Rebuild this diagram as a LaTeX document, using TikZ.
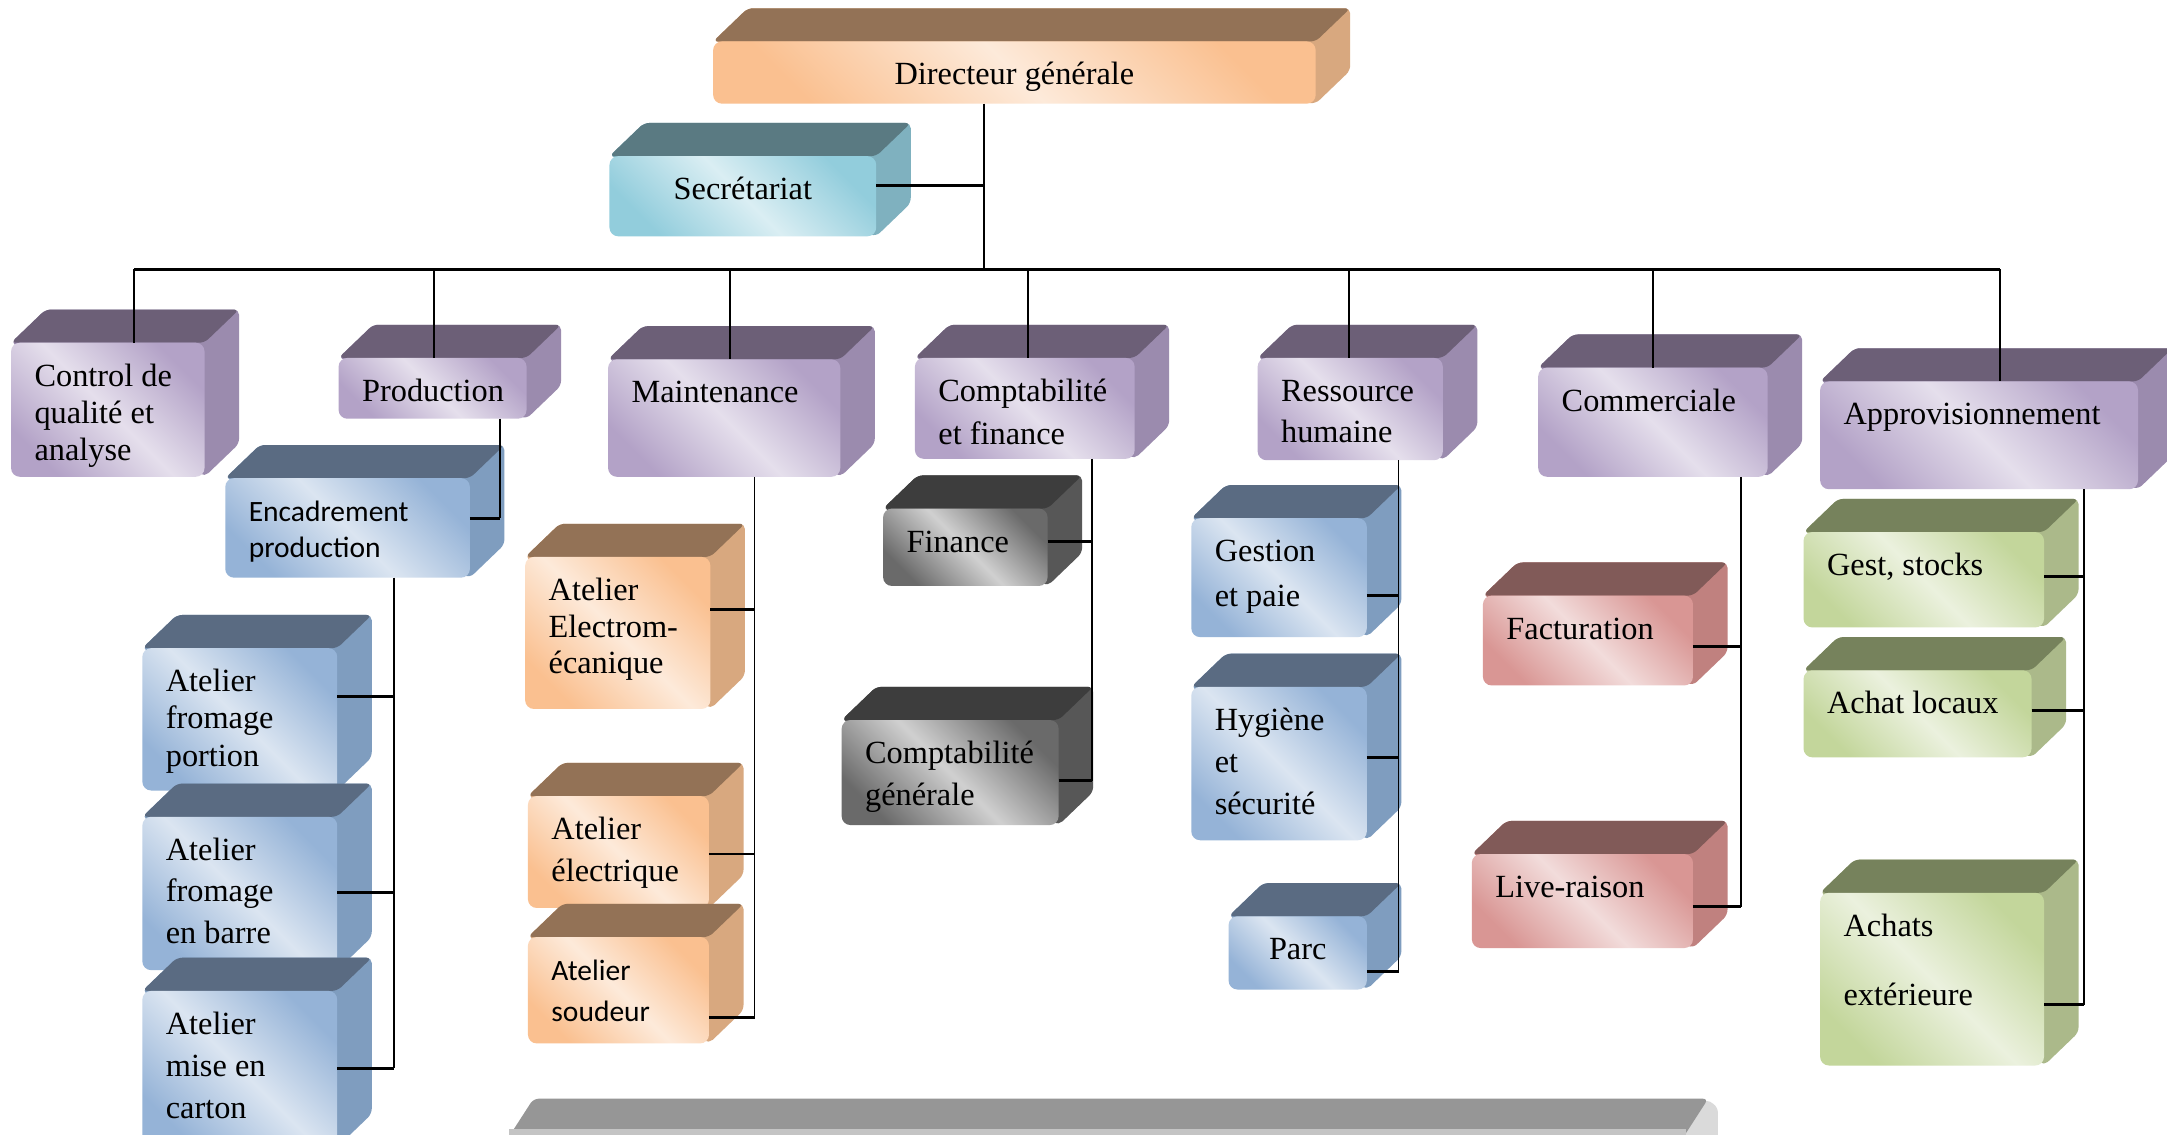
\documentclass[tikz,border=0pt]{standalone}
\usepackage{fontspec}
\setmainfont{Liberation Serif}
\newfontfamily\sansf{Carlito}
\usetikzlibrary{calc}
% colour sets: top, side, saturated front, light front
\definecolor{ortop}{HTML}{937256}\definecolor{orside}{HTML}{D8A87F}\definecolor{orsat}{HTML}{FAC090}\definecolor{orlt}{HTML}{FDEADA}
\definecolor{cytop}{HTML}{5A7A82}\definecolor{cyside}{HTML}{7FB1BF}\definecolor{cysat}{HTML}{92CDDC}\definecolor{cylt}{HTML}{DAEEF3}
\definecolor{putop}{HTML}{6C5F77}\definecolor{puside}{HTML}{9B8BAE}\definecolor{pusat}{HTML}{B3A2C7}\definecolor{pult}{HTML}{E5DFEC}
\definecolor{bltop}{HTML}{5A6B82}\definecolor{blside}{HTML}{7F9DBF}\definecolor{blsat}{HTML}{95B3D7}\definecolor{bllt}{HTML}{DBE5F1}
\definecolor{dktop}{HTML}{3D3D3D}\definecolor{dkside}{HTML}{575757}\definecolor{dksat}{HTML}{6A6A6A}\definecolor{dklt}{HTML}{D0D0D0}
\definecolor{rdtop}{HTML}{815A58}\definecolor{rdside}{HTML}{C0817F}\definecolor{rdsat}{HTML}{D99694}\definecolor{rdlt}{HTML}{F2DCDB}
\definecolor{grtop}{HTML}{76825C}\definecolor{grside}{HTML}{ABB98A}\definecolor{grsat}{HTML}{C3D69B}\definecolor{grlt}{HTML}{EBF1DE}
\definecolor{bartop}{HTML}{969696}\definecolor{barside}{HTML}{DADADA}\definecolor{barfront}{HTML}{C4C4C4}
\tikzset{
  front/.style={rounded corners=2.5pt, inner sep=0pt, outer sep=0pt},
  txt/.style={inner sep=0pt, outer sep=0pt, align=left, anchor=north west, text=black},
  ln/.style={line width=0.5pt, black},
  stubln/.style={line width=0.8pt, black},
  busln/.style={line width=1pt, black}
}
% 3D box: name, x1, y1, x2, y2, colour set
\newcommand\dcube[6]{%
  \fill[#6side, rounded corners=1.5pt] (#2,#3) -- ({#2+25},{#3-24}) -- ({#4+25},{#3-24}) -- ({#4+25},{#5-24}) -- (#4,#5) -- cycle;
  \fill[#6top, rounded corners=1.5pt] (#2,#3) -- ({#2+25},{#3-24}) -- ({#4+25},{#3-24}) -- (#4,#3) -- cycle;
  \node[front, top color=#6sat, bottom color=#6sat, middle color=#6lt, shading angle=-45,
        minimum width={(#4-#2)*0.1382mm}, minimum height={(#5-#3)*0.1382mm}] (#1) at ({(#2+#4)/2},{(#3+#5)/2}) {};
}
\newcommand\lbl[3]{\node[txt, font=\fontsize{9.2}{#3}\selectfont] (#1-t) at ($(#1.north west)+(17,8.6)$) {\rule{0pt}{9pt}#2};}
\newcommand\slbl[3]{\node[txt, font=\sansf\fontsize{8.4}{#3}\selectfont] (#1-t) at ($(#1.north west)+(17,8.6)$) {\rule{0pt}{9pt}#2};}
\newcommand\clbl[2]{\node[txt, anchor=north, align=center, font=\fontsize{9.2}{11pt}\selectfont] (#1-t) at ($(#1.north)+(0,8.6)$) {\rule{0pt}{9pt}#2};}
\newcommand\stub[3]{\draw[stubln] ($(#1.north east)+(0,#2)$) coordinate (#1-s) -- (#1-s -| #3);}
\begin{document}
\begin{tikzpicture}[x=0.1382mm, y=-0.1382mm]
\useasboundingbox (0,0) rectangle (1568,821);
\fill[white] (0,0) rectangle (1568,821);

% top
\dcube{dir}{516}{30}{952}{75}{or} \clbl{dir}{Directeur générale}
\dcube{sec}{441}{113}{634}{171}{cy} \clbl{sec}{Secrétariat}

% level 2
\dcube{ctrl}{8}{248}{148}{345}{pu} \lbl{ctrl}{Control de\\qualité et\\analyse}{10.6pt}
\dcube{prod}{245}{259}{381}{303}{pu} \lbl{prod}{Production}{11pt}
\dcube{maint}{440}{260}{608}{345}{pu} \lbl{maint}{Maintenance}{11pt}
\dcube{compta}{662}{259}{821}{332}{pu} \lbl{compta}{Comptabilité\\et finance}{12.2pt}
\dcube{rh}{910}{259}{1044}{333}{pu} \lbl{rh}{Ressource\\humaine}{11.8pt}
\dcube{comm}{1113}{266}{1279}{345}{pu} \lbl{comm}{Commerciale}{11pt}
\dcube{appro}{1317}{276}{1547}{354}{pu} \lbl{appro}{Approvisionnement}{11pt}

% production
\dcube{enc}{163}{346}{340}{418}{bl} \slbl{enc}{Encadrement\\production}{10.2pt}
\dcube{fp}{103}{469}{244}{572}{bl} \lbl{fp}{Atelier\\fromage\\portion}{10.6pt}
\dcube{fb}{103}{591}{244}{702}{bl} \lbl{fb}{Atelier\\fromage\\en barre}{11.8pt}
\dcube{fc}{103}{717}{244}{830}{bl} \lbl{fc}{Atelier\\mise en\\carton}{12pt}

% maintenance
\dcube{aem}{380}{403}{514}{513}{or} \lbl{aem}{Atelier\\Electrom-\\écanique}{10.4pt}
\dcube{ael}{382}{576}{513}{657}{or} \lbl{ael}{Atelier\\électrique}{11.8pt}
\dcube{aso}{382}{678}{513}{755}{or} \slbl{aso}{Atelier\\soudeur}{11.8pt}

% comptabilite
\dcube{fin}{639}{368}{758}{424}{dk} \lbl{fin}{Finance}{11pt}
\dcube{cg}{609}{521}{766}{597}{dk} \lbl{cg}{Comptabilité\\générale}{11.8pt}

% RH
\dcube{gp}{862}{375}{989}{461}{bl} \lbl{gp}{Gestion\\et paie}{12.6pt}
\dcube{hs}{862}{497}{989}{608}{bl} \lbl{hs}{Hygiène\\et\\sécurité}{12pt}
\dcube{parc}{889}{663}{989}{716}{bl} \clbl{parc}{Parc}

% commerciale
\dcube{fact}{1073}{431}{1225}{496}{rd} \lbl{fact}{Facturation}{11pt}
\dcube{live}{1065}{618}{1225}{686}{rd} \lbl{live}{Live-raison}{11pt}

% approvisionnement
\dcube{gs}{1305}{385}{1479}{454}{gr} \lbl{gs}{Gest, stocks}{11pt}
\dcube{al}{1305}{485}{1470}{548}{gr} \lbl{al}{Achat locaux}{11pt}
\dcube{ae}{1317}{646}{1479}{771}{gr} \lbl{ae}{Achats\\extérieure}{19.7pt}

% bottom bar (cut by page edge)
\fill[barside, rounded corners=1.5pt] (1214,826) -- (1234,795) -- (1243,801) -- (1243,826) -- cycle;
\fill[bartop, rounded corners=1.5pt] (366,826) -- (386,795) -- (1236,795) -- (1216,826) -- cycle;
\fill[barfront] (368,817) rectangle (1220,826);

% connectors
\coordinate (bc) at (712,195);
\coordinate (b1) at (97,195);
\coordinate (b2) at (314,195);
\coordinate (b3) at (528,195);
\coordinate (b4) at (744,195);
\coordinate (b5) at (976,195);
\coordinate (b6) at (1196,195);
\coordinate (b7) at (1447,195);
\draw[busln] (b1) -- (b7);
\draw[ln] (bc |- dir.south) -- (bc);
\stub{sec}{21}{bc}
\foreach \b/\n in {b1/ctrl, b2/prod, b3/maint, b4/compta, b5/rh, b6/comm, b7/appro}
  \draw[ln] (\b) -- (\b |- \n.north);

\coordinate (tprod) at ($(prod.south east)+(-19,0)$);
\stub{enc}{29}{tprod}
\draw[ln] (tprod) -- (tprod |- enc-s);

\coordinate (tenc) at ($(enc.south east)+(-55,0)$);
\stub{fp}{35}{tenc} \stub{fb}{55}{tenc} \stub{fc}{56}{tenc}
\draw[ln] (tenc) -- (tenc |- fc-s);

\coordinate (tmaint) at ($(maint.south east)+(-62,0)$);
\stub{aem}{38}{tmaint} \stub{ael}{42}{tmaint} \stub{aso}{58}{tmaint}
\draw[ln] (tmaint) -- (tmaint |- aso-s);

\coordinate (tcompta) at ($(compta.south east)+(-31,0)$);
\stub{fin}{24}{tcompta} \stub{cg}{44}{tcompta}
\draw[ln] (tcompta) -- (tcompta |- cg-s);

\coordinate (trh) at ($(rh.south east)+(-32,0)$);
\stub{gp}{56}{trh} \stub{hs}{51}{trh} \stub{parc}{40}{trh}
\draw[ln] (trh) -- (trh |- parc-s);

\coordinate (tcomm) at ($(comm.south east)+(-19,0)$);
\stub{fact}{37}{tcomm} \stub{live}{38}{tcomm}
\draw[ln] (tcomm) -- (tcomm |- live-s);

\coordinate (tappro) at ($(appro.south east)+(-39,0)$);
\stub{gs}{32}{tappro} \stub{al}{29}{tappro} \stub{ae}{81}{tappro}
\draw[ln] (tappro) -- (tappro |- ae-s);
\end{tikzpicture}
\end{document}
